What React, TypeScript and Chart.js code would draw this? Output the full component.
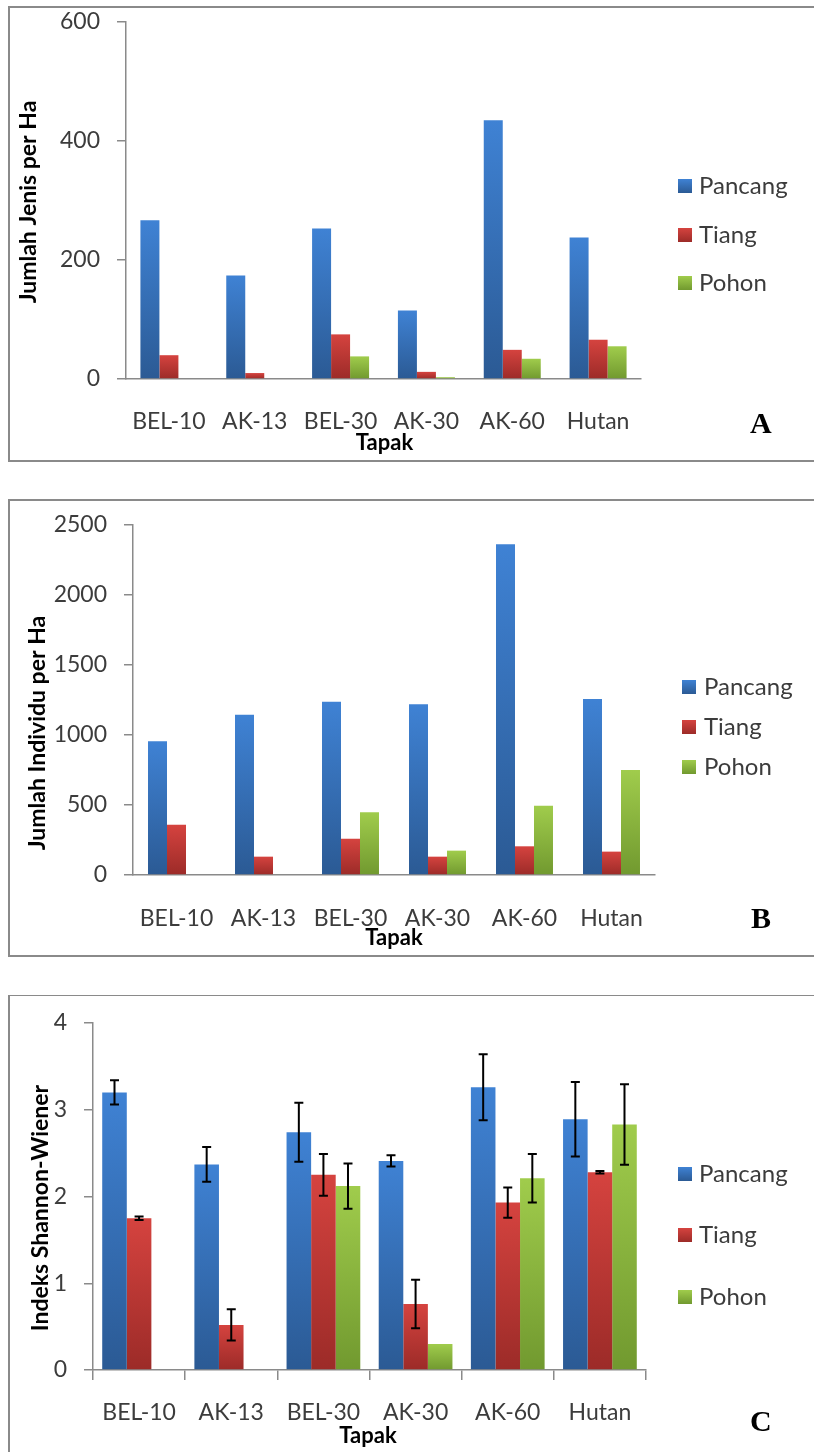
import React, { useEffect, useRef } from "react";
import { Chart, registerables } from "chart.js";

Chart.register(...registerables);

// ---------- DATA ----------
const categories = ["BEL-10", "AK-13", "BEL-30", "AK-30", "AK-60", "Hutan"];
const seriesNames = ["Pancang", "Tiang", "Pohon"];

// Panel A: Jumlah Jenis per Ha
const jenisPancang = [267, 174, 253, 115, 435, 238];
const jenisTiang = [40, 10, 75, 12, 49, 66];
const jenisPohon = [0, 0, 38, 3, 34, 55];
const jenisTicks = [0, 200, 400, 600];

// Panel B: Jumlah Individu per Ha
const individuPancang = [955, 1145, 1238, 1219, 2362, 1257];
const individuTiang = [359, 131, 259, 131, 205, 167];
const individuPohon = [0, 0, 448, 174, 495, 750];
const individuTicks = [0, 500, 1000, 1500, 2000, 2500];

// Panel C: Indeks Shannon-Wiener (with error bars)
const shannonPancang = [3.2, 2.37, 2.74, 2.41, 3.26, 2.89];
const shannonTiang = [1.75, 0.52, 2.25, 0.76, 1.93, 2.28];
const shannonPohon = [0, 0, 2.12, 0.3, 2.21, 2.83];
const errPancang = [0.14, 0.2, 0.34, 0.065, 0.38, 0.43];
const errTiang = [0.02, 0.18, 0.24, 0.28, 0.175, 0.015];
const errPohon = [0, 0, 0.26, 0, 0.28, 0.465];
const shannonTicks = [0, 1, 2, 3, 4];

// ---------- STYLE ----------
const palettes = [
  ["#3f82d4", "#2b5a94"],
  ["#d5433f", "#9c2b28"],
  ["#a0cc4c", "#71992f"],
];
const FONT = "Lato, 'Open Sans', sans-serif";
const TICK_COLOR = "#3c3c3c";
const AXIS_COLOR = "#8a8a8a";

function barGradient(i: number) {
  return (ctx: any) => {
    const chart = ctx.chart;
    const y = chart.scales && chart.scales.y;
    if (ctx.type !== "data" || !y || !chart.chartArea) return palettes[i][0];
    const v = typeof ctx.raw === "number" ? ctx.raw : 0;
    const top = y.getPixelForValue(v);
    const base = y.getPixelForValue(0);
    if (!isFinite(top) || !isFinite(base) || Math.abs(base - top) < 1) return palettes[i][1];
    const g = chart.ctx.createLinearGradient(0, top, 0, base);
    g.addColorStop(0, palettes[i][0]);
    g.addColorStop(1, palettes[i][1]);
    return g;
  };
}

type Area = { left: number; right: number; top: number; bottom: number };
type PanelProps = {
  top: number;
  height: number;
  values: number[][];
  errors?: number[][];
  yTicks: number[];
  yTitle: string;
  yTitleX: number;
  yTitleY: number;
  xTitle: string;
  xTitleX: number;
  xTitleY: number;
  letter: string;
  letterX: number;
  letterY: number;
  area: Area;
  catPct: number;
  xTickMarks: boolean;
  xLabelPad: number;
  legendX: number;
  legendYs: number[];
  legendTextX: number;
};

function PanelChart(p: PanelProps) {
  const ref = useRef<HTMLCanvasElement>(null);
  useEffect(() => {
    let chart: Chart | null = null;
    let cancelled = false;
    const W = 814;
    const xAxisH = 60;

    const build = () => {
      if (cancelled || !ref.current) return;
      const datasets = seriesNames.map((name, i) => ({
        label: name,
        data: p.values[i],
        backgroundColor: barGradient(i),
        borderWidth: 0,
        categoryPercentage: p.catPct,
        barPercentage: 1,
      }));

      const decor = {
        id: "decor",
        afterDatasetsDraw(ch: any) {
          if (!p.errors) return;
          const ys = ch.scales.y;
          const c = ch.ctx;
          c.save();
          c.strokeStyle = "#000";
          c.lineWidth = 2;
          p.errors.forEach((errs, i) => {
            const meta = ch.getDatasetMeta(i);
            errs.forEach((e, j) => {
              if (!e) return;
              const v = p.values[i][j];
              const x = meta.data[j].x;
              const y1 = ys.getPixelForValue(v + e);
              const y2 = ys.getPixelForValue(v - e);
              c.beginPath();
              c.moveTo(x, y1);
              c.lineTo(x, y2);
              c.moveTo(x - 4.5, y1);
              c.lineTo(x + 4.5, y1);
              c.moveTo(x - 4.5, y2);
              c.lineTo(x + 4.5, y2);
              c.stroke();
            });
          });
          c.restore();
        },
        afterDraw(ch: any) {
          const c = ch.ctx;
          c.save();
          // y title
          c.save();
          c.translate(p.yTitleX, p.yTitleY);
          c.rotate(-Math.PI / 2);
          c.font = `bold 23px ${FONT}`;
          c.fillStyle = "#000";
          c.textAlign = "center";
          c.textBaseline = "alphabetic";
          c.fillText(p.yTitle, 0, 0);
          c.restore();
          // x title
          c.font = `bold 22px ${FONT}`;
          c.fillStyle = "#000";
          c.textAlign = "center";
          c.textBaseline = "alphabetic";
          c.fillText(p.xTitle, p.xTitleX, p.xTitleY);
          // panel letter
          c.font = `bold 30px 'Liberation Serif', 'Times New Roman', serif`;
          c.textAlign = "left";
          c.fillText(p.letter, p.letterX, p.letterY);
          // legend
          ch.data.datasets.forEach((ds: any, i: number) => {
            const yc = p.legendYs[i];
            const g = c.createLinearGradient(0, yc - 7, 0, yc + 7);
            g.addColorStop(0, palettes[i][0]);
            g.addColorStop(1, palettes[i][1]);
            c.fillStyle = g;
            c.fillRect(p.legendX, yc - 7, 14, 14);
            c.fillStyle = TICK_COLOR;
            c.font = `24px ${FONT}`;
            c.textAlign = "left";
            c.textBaseline = "alphabetic";
            c.fillText(ds.label, p.legendTextX, yc + 8);
          });
          c.restore();
        },
      };

      chart = new Chart(ref.current, {
        type: "bar",
        data: { labels: categories, datasets },
        options: {
          responsive: false,
          animation: false,
          layout: {
            padding: {
              left: 0,
              right: W - p.area.right,
              top: p.area.top,
              bottom: p.height - p.area.bottom - xAxisH,
            },
          },
          plugins: { legend: { display: false }, tooltip: { enabled: false } },
          scales: {
            x: {
              grid: {
                display: p.xTickMarks,
                drawOnChartArea: false,
                drawTicks: p.xTickMarks,
                tickLength: 10,
                color: AXIS_COLOR,
                lineWidth: 1.5,
              },
              border: { display: true, color: AXIS_COLOR, width: 1.5 },
              ticks: {
                font: { family: FONT, size: 23 },
                color: TICK_COLOR,
                padding: p.xLabelPad,
                maxRotation: 0,
                autoSkip: false,
              },
              afterFit: (s: any) => {
                s.height = xAxisH;
                s.paddingLeft = 0;
                s.paddingRight = 0;
                s.paddingTop = 0;
                s.paddingBottom = 0;
              },
            },
            y: {
              min: p.yTicks[0],
              max: p.yTicks[p.yTicks.length - 1],
              afterBuildTicks: (s: any) => {
                s.ticks = p.yTicks.map((v) => ({ value: v }));
              },
              ticks: {
                font: { family: FONT, size: 23 },
                color: TICK_COLOR,
                padding: 17,
                callback: (v: any) => String(v),
              },
              grid: {
                drawOnChartArea: false,
                drawTicks: true,
                tickLength: 9,
                color: AXIS_COLOR,
                lineWidth: 1.5,
              },
              border: { display: true, color: AXIS_COLOR, width: 1.5 },
              afterFit: (s: any) => {
                s.width = p.area.left;
                s.paddingTop = 0;
                s.paddingBottom = 0;
                s.paddingLeft = 0;
                s.paddingRight = 0;
              },
            },
          },
        } as any,
        plugins: [decor as any],
      });
    };

    const fontsReady =
      (document as any).fonts && (document as any).fonts.load
        ? Promise.all([
            (document as any).fonts.load(`23px Lato`),
            (document as any).fonts.load(`bold 22px Lato`),
            (document as any).fonts.load(`bold 30px 'Liberation Serif'`),
          ]).catch(() => null)
        : Promise.resolve(null);
    fontsReady.then(build);

    return () => {
      cancelled = true;
      if (chart) chart.destroy();
    };
  }, []);
  return (
    <canvas
      ref={ref}
      width={814}
      height={p.height}
      style={{ position: "absolute", left: 0, top: p.top, width: 814, height: p.height }}
    />
  );
}

export default function App() {
  const box = (top: number, height: number, extra: any = {}) => (
    <div
      style={{
        position: "absolute",
        left: 8,
        top,
        width: 840,
        height,
        boxSizing: "border-box",
        border: "2px solid #8a8a8a",
        ...extra,
      }}
    />
  );
  return (
    <div
      style={{
        position: "fixed",
        left: 0,
        top: 0,
        width: 814,
        height: 1452,
        overflow: "hidden",
        background: "#ffffff",
      }}
    >
      {box(6, 456)}
      {box(499, 458)}
      {box(995, 520, { borderTop: "1px solid #8a8a8a" })}

      <PanelChart
        top={0}
        height={462}
        values={[jenisPancang, jenisTiang, jenisPohon]}
        yTicks={jenisTicks}
        yTitle="Jumlah Jenis per Ha"
        yTitleX={36}
        yTitleY={202}
        xTitle="Tapak"
        xTitleX={384.5}
        xTitleY={450}
        letter="A"
        letterX={750}
        letterY={433}
        area={{ left: 126, right: 641, top: 22, bottom: 379 }}
        catPct={0.664}
        xTickMarks={false}
        xLabelPad={29}
        legendX={678}
        legendYs={[186, 235, 283]}
        legendTextX={699}
      />
      <PanelChart
        top={499}
        height={458}
        values={[individuPancang, individuTiang, individuPohon]}
        yTicks={individuTicks}
        yTitle="Jumlah Individu per Ha"
        yTitleX={45}
        yTitleY={234}
        xTitle="Tapak"
        xTitleX={394}
        xTitleY={446}
        letter="B"
        letterX={751}
        letterY={429}
        area={{ left: 133, right: 655, top: 26, bottom: 376 }}
        catPct={0.655}
        xTickMarks={false}
        xLabelPad={30}
        legendX={682}
        legendYs={[188, 228, 268]}
        legendTextX={704}
      />
      <PanelChart
        top={995}
        height={457}
        values={[shannonPancang, shannonTiang, shannonPohon]}
        errors={[errPancang, errTiang, errPohon]}
        yTicks={shannonTicks}
        yTitle="Indeks Shannon-Wiener"
        yTitleX={48}
        yTitleY={213}
        xTitle="Tapak"
        xTitleX={368}
        xTitleY={448}
        letter="C"
        letterX={750}
        letterY={436}
        area={{ left: 93, right: 646, top: 28, bottom: 375 }}
        catPct={0.8}
        xTickMarks={true}
        xLabelPad={19}
        legendX={678}
        legendYs={[179, 240, 302]}
        legendTextX={699}
      />
    </div>
  );
}
